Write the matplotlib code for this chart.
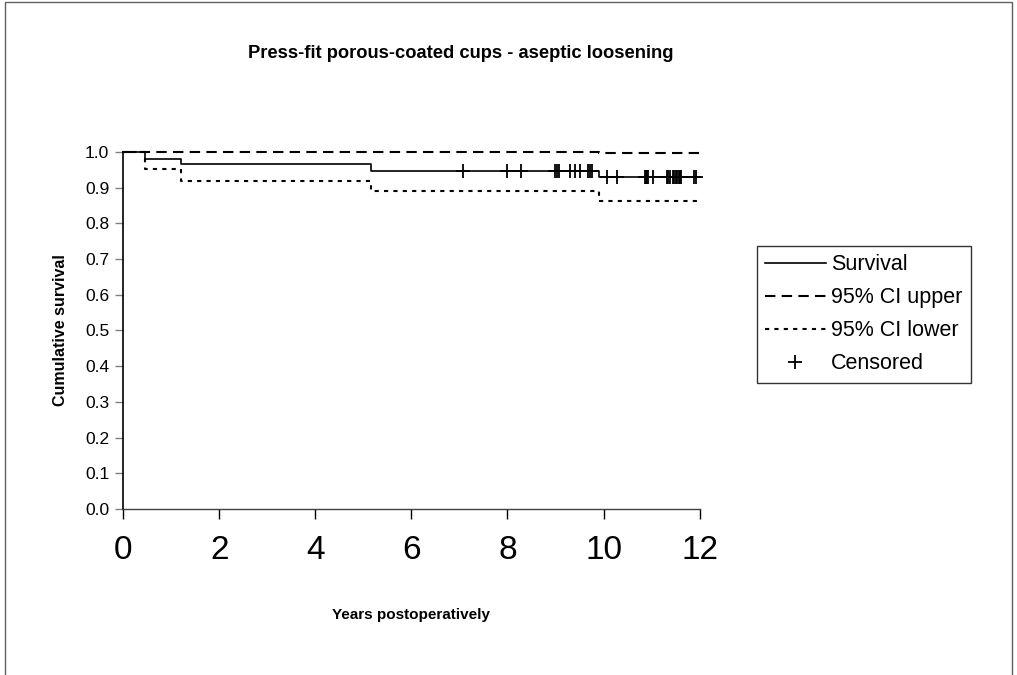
import numpy as np
import matplotlib
matplotlib.use("Agg")
from matplotlib import pyplot as plt
from matplotlib.patches import Rectangle

plt.rcParams['font.family'] = ['Liberation Sans', 'DejaVu Sans']

# Kaplan-Meier step data (years, survival)
step_years = [0.0, 0.45, 1.2, 5.15, 9.9, 12.0]
survival = [1.0, 0.980, 0.966, 0.947, 0.930, 0.930]
ci_upper = [1.0, 1.0, 1.0, 1.0, 0.998, 0.998]
ci_lower = [1.0, 0.952, 0.919, 0.891, 0.862, 0.862]

# censored follow-up times
censored = [7.07, 7.99, 8.28, 8.98, 9.03, 9.07, 9.30, 9.40, 9.51, 9.67, 9.71, 9.75,
            10.07, 10.27, 10.86, 10.88, 10.90, 10.92, 11.02, 11.31, 11.34, 11.38,
            11.44, 11.47, 11.50, 11.53, 11.56, 11.59, 11.62, 11.88, 11.93]

title = "Press-fit porous-coated cups - aseptic loosening"
xticks = [0, 2, 4, 6, 8, 10, 12]
yticks = [0.0, 0.1, 0.2, 0.3, 0.4, 0.5, 0.6, 0.7, 0.8, 0.9, 1.0]


def surv_at(t):
    idx = np.searchsorted(step_years, t, side="right") - 1
    return survival[idx]


fig = plt.figure(figsize=(10.17, 6.75), dpi=100)
ax = fig.add_axes([0.121, 0.246, 0.567, 0.529])

ax.step(step_years, survival, where="post", color="black", lw=1.2, label="Survival",
        clip_on=False)
ax.step(step_years, ci_upper, where="post", color="black", lw=1.5,
        linestyle=(0, (5, 3)), label="95% CI upper", clip_on=False)
ax.step(step_years, ci_lower, where="post", color="black", lw=1.5,
        linestyle=(0, (2, 2.5)), label="95% CI lower", clip_on=False)
cens_y = [surv_at(t) for t in censored]
ax.plot(censored, cens_y, linestyle="none", marker="+", markersize=10,
        markeredgewidth=1.3, color="black", label="Censored", clip_on=False)

ax.set_xlim(0, 12)
ax.set_ylim(0, 1.0)
ax.set_xticks(xticks)
ax.set_yticks(yticks)
ax.set_yticklabels(["%.1f" % v for v in yticks], fontsize=12.5)
ax.set_xticklabels([str(v) for v in xticks], fontsize=24)
ax.tick_params(axis="x", direction="out", length=7, width=1, pad=12)
ax.tick_params(axis="y", direction="out", length=6, width=1, color="#808080", pad=4)
for s in ["top", "right"]:
    ax.spines[s].set_visible(False)
ax.spines["left"].set_linewidth(1.2)
ax.spines["bottom"].set_linewidth(1)
ax.spines["bottom"].set_color("#404040")

ax.set_xlabel("Years postoperatively", fontsize=11, fontweight="bold", labelpad=30)
ax.set_ylabel("Cumulative survival", fontsize=11.5, fontweight="bold", labelpad=12)
fig.text(0.453, 0.921, title, fontsize=13.2, fontweight="bold", ha="center", va="center")

leg = ax.legend(loc="upper left", bbox_to_anchor=(0.744, 0.636), bbox_transform=fig.transFigure,
                fontsize=15.5, frameon=True, fancybox=False, edgecolor="black",
                handlelength=2.8, handletextpad=0.25, borderpad=0.4, labelspacing=0.56,
                borderaxespad=0)
leg.get_frame().set_linewidth(1)

# outer chart border
fig.patches.append(Rectangle((0.005, -0.05), 0.99, 1.047, transform=fig.transFigure,
                             fill=False, edgecolor="#606060", lw=1))

fig.savefig("out.png", dpi=100)
